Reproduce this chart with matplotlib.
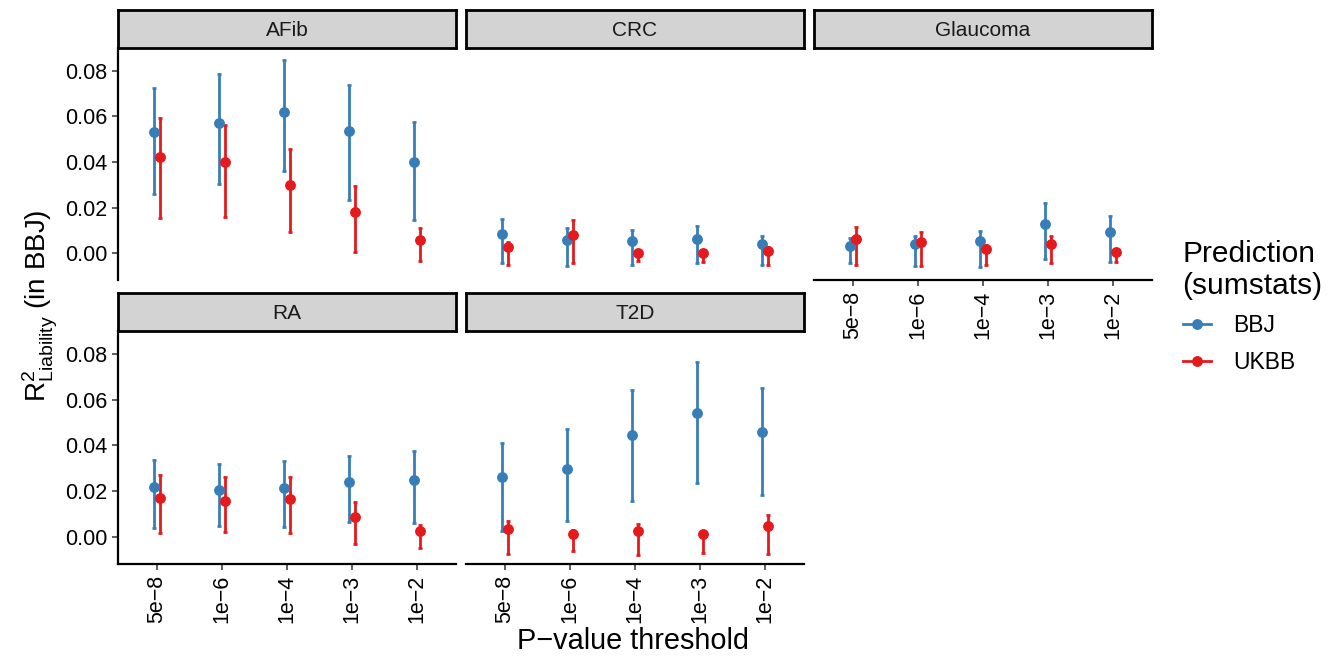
import matplotlib.pyplot as plt
from matplotlib.lines import Line2D
import numpy as np

plt.rcParams['font.family'] = ['Liberation Sans', 'DejaVu Sans']
plt.rcParams['mathtext.fontset'] = 'custom'
plt.rcParams['mathtext.rm'] = 'Liberation Sans'
plt.rcParams['mathtext.it'] = 'Liberation Sans:italic'

diseases = ['AFib', 'CRC', 'Glaucoma', 'RA', 'T2D']
thresholds = ['5e\u22128', '1e\u22126', '1e\u22124', '1e\u22123', '1e\u22122']
cohorts = ['BBJ', 'UKBB']

# rows follow diseases, columns follow thresholds
bbj_r2 = [[0.0531, 0.0573, 0.0617, 0.0535, 0.0401],
          [0.0084, 0.0057, 0.0053, 0.0063, 0.0039],
          [0.0033, 0.0038, 0.0051, 0.0127, 0.0092],
          [0.0217, 0.0206, 0.0213, 0.0239, 0.0247],
          [0.0261, 0.0298, 0.0445, 0.0543, 0.0458]]
bbj_lo = [[0.0260, 0.0303, 0.0359, 0.0233, 0.0144],
          [-0.0045, -0.0056, -0.0050, -0.0045, -0.0054],
          [-0.0045, -0.0056, -0.0063, -0.0028, -0.0037],
          [0.0041, 0.0047, 0.0042, 0.0064, 0.0061],
          [0.0028, 0.0069, 0.0156, 0.0235, 0.0184]]
bbj_hi = [[0.0726, 0.0788, 0.0849, 0.0738, 0.0576],
          [0.0150, 0.0108, 0.0101, 0.0119, 0.0077],
          [0.0067, 0.0074, 0.0095, 0.0221, 0.0163],
          [0.0336, 0.0318, 0.0334, 0.0356, 0.0376],
          [0.0410, 0.0473, 0.0642, 0.0763, 0.0652]]

ukbb_r2 = [[0.0420, 0.0400, 0.0299, 0.0182, 0.0058],
           [0.0026, 0.0081, 0.0001, 0.0001, 0.0010],
           [0.0061, 0.0048, 0.0018, 0.0038, 0.0004],
           [0.0172, 0.0159, 0.0164, 0.0088, 0.0025],
           [0.0034, 0.0015, 0.0026, 0.0012, 0.0048]]
ukbb_lo = [[0.0154, 0.0158, 0.0092, 0.0003, -0.0034],
           [-0.0054, -0.0045, -0.0034, -0.0041, -0.0051],
           [-0.0050, -0.0056, -0.0054, -0.0045, -0.0039],
           [0.0018, 0.0021, 0.0018, -0.0029, -0.0048],
           [-0.0076, -0.0060, -0.0079, -0.0068, -0.0076]]
ukbb_hi = [[0.0595, 0.0563, 0.0456, 0.0296, 0.0109],
           [0.0049, 0.0146, 0.0014, 0.0015, 0.0025],
           [0.0115, 0.0093, 0.0035, 0.0073, 0.0018],
           [0.0273, 0.0264, 0.0260, 0.0154, 0.0051],
           [0.0069, 0.0029, 0.0055, 0.0022, 0.0096]]

colors = {'BBJ': '#377EB8', 'UKBB': '#E41A1C'}
series = {'BBJ': (bbj_r2, bbj_lo, bbj_hi), 'UKBB': (ukbb_r2, ukbb_lo, ukbb_hi)}
dodge = {'BBJ': -0.05, 'UKBB': 0.05}

W, H = 1328, 656
fig = plt.figure(figsize=(W / 100, H / 100), dpi=100)

def px_axes(l, t, r, b):
    return fig.add_axes([l / W, 1 - b / H, (r - l) / W, (b - t) / H])

cols = [(118, 456), (466, 804), (814, 1152)]
rows = [(48, 280), (331, 564)]
strips = [(10, 48), (293, 331)]

x = np.arange(1, len(thresholds) + 1)

for i, d in enumerate(diseases):
    r, c = divmod(i, 3)
    l, rr = cols[c]
    ax = px_axes(l, rows[r][0], rr, rows[r][1])
    for k in cohorts:
        est, lo, hi = (np.array(a[i]) for a in series[k])
        ax.errorbar(x + dodge[k], est, yerr=[est - lo, hi - est], fmt='o',
                    color=colors[k], ms=6.8, elinewidth=2, capsize=1.3,
                    capthick=2)
    ax.set_xlim(0.4, 5.6)
    ax.set_ylim(-0.0118, 0.0900)
    ax.set_xticks(x)
    ax.set_yticks([0, 0.02, 0.04, 0.06, 0.08])
    ax.set_yticklabels(['0.00', '0.02', '0.04', '0.06', '0.08'])
    for s in ['top', 'right']:
        ax.spines[s].set_visible(False)
    for s in ['left', 'bottom']:
        ax.spines[s].set_linewidth(1.6)
    ax.tick_params(length=4.5, width=1.1, color='#333333', labelsize=15.5,
                   labelcolor='black', pad=3)
    left = c == 0
    bottom = r == 1 or d == 'Glaucoma'
    if not left:
        ax.spines['left'].set_visible(False)
        ax.tick_params(axis='y', left=False, labelleft=False)
    if bottom:
        ax.set_xticklabels(thresholds, rotation=90)
    else:
        ax.spines['bottom'].set_visible(False)
        ax.tick_params(axis='x', bottom=False, labelbottom=False)

    sax = px_axes(l, strips[r][0], rr, strips[r][1])
    sax.set_facecolor('#D3D3D3')
    sax.set_xticks([])
    sax.set_yticks([])
    for sp in sax.spines.values():
        sp.set_linewidth(2)
    sax.text(0.5, 0.47, d, ha='center', va='center', fontsize=15,
             color='#1A1A1A', transform=sax.transAxes)

fig.text(40 / W, 1 - 306 / H, r'$\mathregular{R^2_{Liability}}$ (in BBJ)',
         rotation=90, ha='center', va='center', fontsize=20)
fig.text(633 / W, 1 - 641 / H, 'P\u2212value threshold', ha='center',
         va='center', fontsize=20.8)

handles = [Line2D([], [], color=colors[k], marker='o', ms=6.8, lw=2)
           for k in cohorts]
fig.legend(handles, cohorts, title='Prediction\n(sumstats)', loc='upper left',
           bbox_to_anchor=(1162 / W, 1 - 219 / H), frameon=False,
           fontsize=16.5, title_fontsize=21.5, alignment='left',
           handlelength=1.22, labelspacing=0.6, handletextpad=1.0)

fig.savefig('out.png', dpi=100)
